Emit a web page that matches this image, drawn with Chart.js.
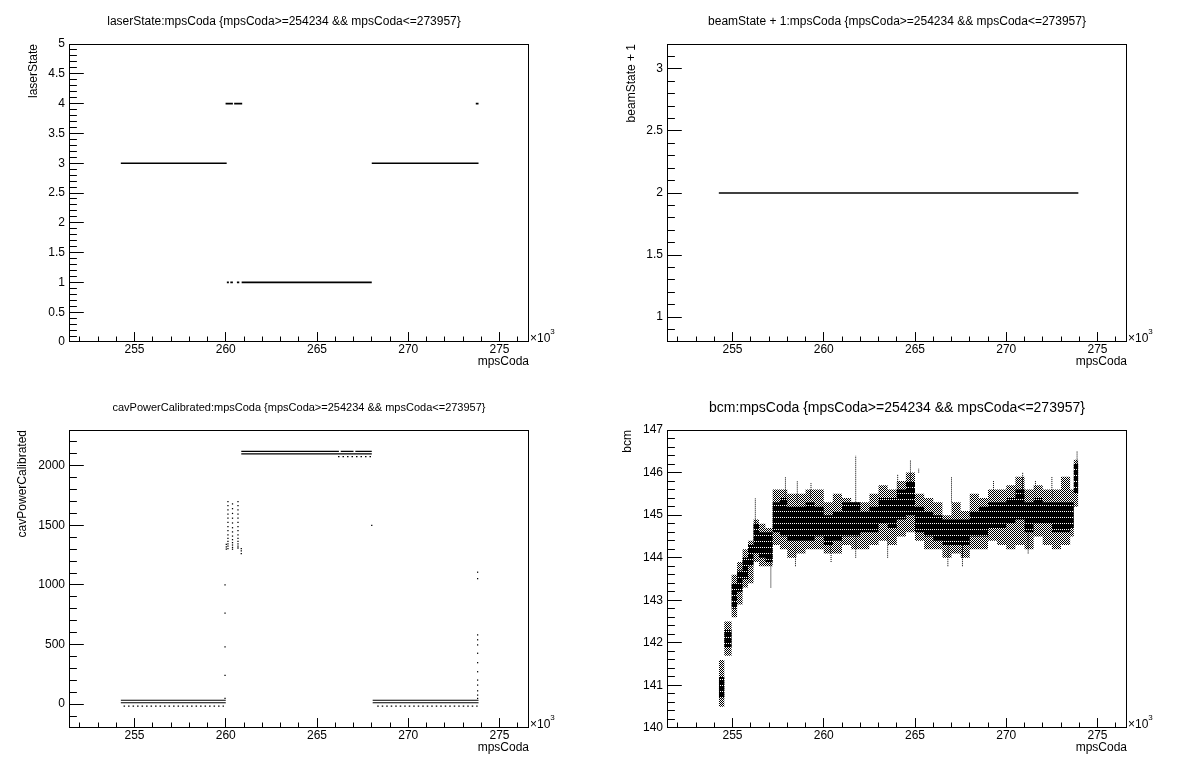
<!DOCTYPE html>
<html><head><meta charset="utf-8">
<script src="https://cdn.jsdelivr.net/npm/chart.js@4.4.0/dist/chart.umd.min.js"></script>
<style>
html,body{margin:0;padding:0;background:#fff;overflow:hidden;}
#wrap{position:relative;width:1196px;height:772px;background:#fff;}
canvas{position:absolute;}
</style></head><body>
<div id="wrap">
<canvas id="c1" width="598" height="386" style="left:0;top:0"></canvas>
<canvas id="c2" width="598" height="386" style="left:598px;top:0"></canvas>
<canvas id="c3" width="598" height="386" style="left:0;top:386px"></canvas>
<canvas id="c4" width="598" height="386" style="left:598px;top:386px"></canvas>
</div>
<script>
// ---------- data ----------
const xTickValues = [255000, 260000, 265000, 270000, 275000];
const laserTicks = [0, 0.5, 1, 1.5, 2, 2.5, 3, 3.5, 4, 4.5, 5];
const beamTicks = [1, 1.5, 2, 2.5, 3];
const cavTicks = [0, 500, 1000, 1500, 2000];
const bcmTicks = [140, 141, 142, 143, 144, 145, 146, 147];

// laserState: horizontal runs of points
const laserSegStart = [254250, 268000, 259990, 260460, 273700, 260060, 260250, 260610, 260870];
const laserSegEnd   = [260050, 273850, 260390, 260900, 273850, 260170, 260390, 260740, 268000];
const laserSegState = [3, 3, 4, 4, 4, 1, 1, 1, 1];

// beamState + 1
const beamSegStart = [254250];
const beamSegEnd   = [273950];
const beamSegValue = [2];

// cavPowerCalibrated: dense runs
const cavSegStart = [254250, 254250, 268050, 268050, 260850, 266300, 267100, 260850];
const cavSegEnd   = [260000, 260000, 273850, 273850, 266200, 267000, 268000, 268000];
const cavSegPower = [33, 12, 33, 12, 2120, 2120, 2120, 2100];
// sparse runs
const cavDotStart = [254400, 268300, 266150];
const cavDotEnd   = [259900, 273800, 268000];
const cavDotPower = [-17, -17, 2076];
// isolated points
const cavPointX = [
  259960, 259960, 259960, 259960, 259960,
  260120, 260120, 260120, 260120, 260120, 260120, 260120, 260120, 260120, 260120, 260120, 260120, 260120, 260120,
  260370, 260370, 260370, 260370, 260370, 260370, 260370, 260370, 260370, 260370, 260370, 260370, 260370,
  260670, 260670, 260670, 260670, 260670, 260670, 260670, 260670, 260670, 260670, 260670, 260670, 260670, 260670,
  260030, 260030, 260030, 260850, 260850, 260850, 268000,
  273800, 273800, 273800, 273800, 273800, 273800, 273800, 273800, 273800, 273800, 273800, 273800, 273800
];
const cavPointY = [
  1000, 764, 480, 241, 48,
  1700, 1665, 1630, 1595, 1560, 1525, 1490, 1455, 1420, 1390, 1365, 1345, 1325, 1305,
  1680, 1640, 1600, 1560, 1520, 1480, 1445, 1410, 1380, 1355, 1335, 1315, 1300,
  1700, 1665, 1630, 1595, 1560, 1525, 1490, 1455, 1420, 1390, 1365, 1345, 1325, 1310,
  1300, 1320, 1340, 1262, 1285, 1305, 1500,
  1107, 1053, 581, 540, 497, 427, 348, 272, 202, 160, 112, 76, 48
];

// bcm: envelope per mpsCoda interval
const bcmBinStart = [254250, 254550, 254950, 255250, 255550, 255850, 256150, 256450, 256800, 257200,
  257600, 258000, 258500, 259000, 259500, 260000, 260500, 261000, 261500, 262000,
  262500, 263000, 263500, 264000, 264500, 265000, 265500, 266000, 266500, 267000,
  267500, 268000, 268500, 269000, 269500, 270000, 270500, 271000, 271500, 272000,
  272500, 273000, 273500, 273700];
const bcmBinEnd = 273950;
const bcmLow = [140.5, 141.7, 142.6, 142.9, 143.3, 143.4, 143.9, 143.8, 143.8, 144.3,
  144.2, 144.0, 144.1, 144.2, 144.2, 144.1, 144.1, 144.3, 144.2, 144.2,
  144.3, 144.4, 144.3, 144.5, 144.6, 144.4, 144.2, 144.2, 144.0, 144.1,
  144.0, 144.2, 144.2, 144.4, 144.3, 144.2, 144.3, 144.2, 144.5, 144.3,
  144.2, 144.3, 144.5, 145.2];
const bcmHigh = [141.6, 142.5, 143.6, 143.9, 144.2, 144.4, 144.9, 144.8, 144.7, 145.6,
  145.6, 145.5, 145.5, 145.6, 145.6, 145.3, 145.5, 145.4, 145.3, 145.3,
  145.5, 145.7, 145.6, 145.8, 146.0, 145.5, 145.4, 145.3, 145.0, 145.3,
  145.1, 145.5, 145.4, 145.6, 145.6, 145.7, 145.9, 145.6, 145.7, 145.6,
  145.6, 145.9, 145.6, 146.3];
const bcmCoreLow = [140.7, 141.9, 142.8, 143.2, 143.5, 143.8, 144.1, 144.0, 143.9, 144.6,
  144.5, 144.4, 144.4, 144.4, 144.5, 144.3, 144.4, 144.5, 144.5, 144.6,
  144.6, 144.8, 144.7, 144.9, 145.0, 144.6, 144.5, 144.4, 144.3, 144.3,
  144.3, 144.5, 144.5, 144.7, 144.7, 144.8, 144.9, 144.6, 144.8, 144.8,
  144.6, 144.6, 144.7, 145.5];
const bcmCoreHigh = [141.2, 142.3, 143.4, 143.7, 144.0, 144.3, 144.8, 144.6, 144.6, 145.3,
  145.4, 145.2, 145.2, 145.3, 145.2, 145.0, 145.1, 145.3, 145.3, 145.1,
  145.2, 145.4, 145.4, 145.6, 145.8, 145.2, 145.1, 145.0, 144.9, 144.9,
  144.9, 145.1, 145.2, 145.3, 145.3, 145.4, 145.6, 145.3, 145.4, 145.3,
  145.3, 145.3, 145.3, 146.2];
// bcm: isolated excursions
const bcmSpikeX = [256250, 257100, 257900, 258450, 258550, 259300, 260400, 261750, 263500, 264050,
  264750, 265200, 266800, 267000, 267600, 269300, 270900, 271200, 271600, 272500, 273880];
const bcmSpikeLow = [144.4, 143.3, 145.3, 143.8, 145.3, 145.4, 143.9, 144.0, 144.0, 145.5,
  145.6, 146.0, 143.8, 145.3, 143.8, 145.4, 145.5, 144.1, 145.4, 145.4, 146.0];
const bcmSpikeHigh = [145.4, 144.2, 145.9, 144.3, 145.8, 145.75, 144.3, 146.4, 144.5, 145.95,
  146.3, 146.1, 144.3, 145.9, 144.3, 145.8, 146.0, 144.6, 145.8, 145.9, 146.5];

// ---------- helpers ----------
const FONT = "'Liberation Sans', Arial, Helvetica, sans-serif";
const X_MIN = 251410, X_MAX = 276616;
Chart.defaults.color = '#000';
Chart.defaults.font.family = FONT;

function segData(starts, ends, ys) {
  const d = [];
  starts.forEach((s, i) => { d.push({x: s, y: ys[i]}, {x: ends[i], y: ys[i]}, {x: ends[i], y: null}); });
  return d;
}
function vertData(xs, lo, hi) {
  const d = [];
  xs.forEach((x, i) => { d.push({x: x, y: lo[i]}, {x: x, y: hi[i]}, {x: x, y: null}); });
  return d;
}
function stepData(starts, end, ys) {
  const d = starts.map((s, i) => ({x: s, y: ys[i]}));
  d.push({x: end, y: ys[ys.length - 1]});
  return d;
}
function makePattern(w, h, pix) {
  const c = document.createElement('canvas'); c.width = w; c.height = h;
  const g = c.getContext('2d'); g.fillStyle = '#000';
  pix.forEach(p => g.fillRect(p[0], p[1], 1, 1));
  return g.createPattern(c, 'repeat');
}

const rootFrame = {
  id: 'rootFrame',
  afterDatasetsDraw(chart, args, o) {
    const {ctx, chartArea: a} = chart;
    const xs = chart.scales.x, ys = chart.scales.y;
    const L = a.left, R = a.right, T = a.top, B = a.bottom;
    ctx.save();
    ctx.strokeStyle = '#000'; ctx.lineWidth = 1;
    ctx.strokeRect(L + 0.5, T + 0.5, R - L - 1, B - T - 1);
    const xLen = 0.03 * (B - T), yLen = 0.03 * (R - L);
    ctx.beginPath();
    const xr = Math.round(o.xMajor / o.xMinor);
    for (let i = Math.ceil(xs.min / o.xMinor - 1e-6); i * o.xMinor <= xs.max + 1e-6; i++) {
      const p = Math.floor(xs.getPixelForValue(i * o.xMinor)) + 0.5;
      const len = (i % xr === 0) ? xLen : xLen / 2;
      ctx.moveTo(p, B - 1); ctx.lineTo(p, B - 1 - len);
    }
    const yr = Math.round(o.yMajor / o.yMinor);
    for (let i = Math.ceil(ys.min / o.yMinor - 1e-6); i * o.yMinor <= ys.max + 1e-6; i++) {
      let p = Math.floor(ys.getPixelForValue(i * o.yMinor));
      p = Math.min(Math.max(p, T), B - 1) + 0.5;
      const len = (i % yr === 0) ? yLen : yLen / 2;
      ctx.moveTo(L + 1, p); ctx.lineTo(L + 1 + len, p);
    }
    ctx.stroke();
    ctx.fillStyle = '#000';
    ctx.textBaseline = 'alphabetic'; ctx.textAlign = 'left';
    ctx.font = '12px ' + FONT;
    ctx.fillText('\u00d710', R + 1, B);
    const w = ctx.measureText('\u00d710').width;
    ctx.font = '8px ' + FONT;
    ctx.fillText('3', R + 1 + w, B - 8);
    ctx.restore();
  }
};

function makeChart(id, cfg) {
  const shift = cfg.titleShift || 0;
  return new Chart(document.getElementById(id), {
    type: 'scatter',
    data: {datasets: cfg.datasets},
    options: {
      responsive: false, animation: false, devicePixelRatio: 1, events: [],
      layout: {padding: {left: 0, top: 0, bottom: 0, right: 2 * shift}},
      plugins: {
        legend: {display: false}, tooltip: {enabled: false},
        title: {display: true, text: cfg.title, color: '#000',
          font: {family: FONT, size: cfg.titleSize, weight: 'normal'}, padding: cfg.titlePad},
        rootFrame: {xMinor: 1000, xMajor: 5000, yMinor: cfg.yMinor, yMajor: cfg.yMajor}
      },
      scales: {
        x: {
          type: 'linear', min: X_MIN, max: X_MAX,
          afterFit(s) { s.height = 44; },
          afterBuildTicks(s) { s.ticks = xTickValues.map(v => ({value: v})); },
          grid: {display: false, drawTicks: false}, border: {display: false},
          ticks: {color: '#000', font: {family: FONT, size: 12}, padding: 0, maxRotation: 0, autoSkip: false,
            callback: v => String(v / 1000)},
          title: {display: true, text: 'mpsCoda', align: 'end', color: '#000',
            font: {family: FONT, size: 12}, padding: {top: 0, bottom: 16.8}}
        },
        y: {
          type: 'linear', min: cfg.yMin, max: cfg.yMax,
          afterFit(s) { s.width = 69; },
          afterBuildTicks(s) { s.ticks = cfg.yTicks.map(v => ({value: v})); },
          grid: {display: false, drawTicks: false}, border: {display: false},
          ticks: {color: '#000', font: {family: FONT, size: 12}, padding: 4, autoSkip: false,
            callback: v => String(v)},
          title: {display: true, text: cfg.yTitle, align: 'end', color: '#000',
            font: {family: FONT, size: 12}, padding: {top: cfg.yTitlePad, bottom: 0}}
        },
        yRight: {
          type: 'linear', position: 'right', display: true,
          afterFit(s) { s.width = 69 - 2 * shift; },
          grid: {display: false, drawTicks: false}, border: {display: false},
          ticks: {display: false}
        }
      }
    },
    plugins: [rootFrame]
  });
}

const COND = ' {mpsCoda>=254234 && mpsCoda<=273957}';
const lineDs = (data, w, dash) => ({data, showLine: true, borderColor: '#000', borderWidth: w,
  borderDash: dash || [], pointRadius: 0, fill: false, spanGaps: false});

makeChart('c1', {
  title: 'laserState:mpsCoda' + COND, titleSize: 12, titlePad: {top: 14.5, bottom: 15.1}, titleShift: 15,
  yMin: 0, yMax: 5, yTicks: laserTicks, yMinor: 0.1, yMajor: 0.5, yTitle: 'laserState', yTitlePad: 26.5,
  datasets: [lineDs(segData(laserSegStart, laserSegEnd, laserSegState), 1.6)]
});

makeChart('c2', {
  title: 'beamState + 1:mpsCoda' + COND, titleSize: 12, titlePad: {top: 14.5, bottom: 15.1},
  yMin: 0.8, yMax: 3.2, yTicks: beamTicks, yMinor: 0.1, yMajor: 0.5, yTitle: 'beamState + 1', yTitlePad: 26.8,
  datasets: [lineDs(segData(beamSegStart, beamSegEnd, beamSegValue), 1.6)]
});

makeChart('c3', {
  title: 'cavPowerCalibrated:mpsCoda' + COND, titleSize: 11, titlePad: {top: 15.1, bottom: 15.7},
  yMin: -200, yMax: 2300, yTicks: cavTicks, yMinor: 100, yMajor: 500, yTitle: 'cavPowerCalibrated', yTitlePad: 15.5,
  datasets: [
    lineDs(segData(cavSegStart, cavSegEnd, cavSegPower), 1.2),
    lineDs(segData(cavDotStart, cavDotEnd, cavDotPower), 1.2, [1.5, 3]),
    {data: cavPointX.map((x, i) => ({x, y: cavPointY[i]})), showLine: false, pointStyle: 'rect',
      pointRadius: 0.9, backgroundColor: '#000', borderWidth: 0}
  ]
});

const outerPattern = makePattern(2, 2, [[0, 0], [1, 1]]);
const corePattern = makePattern(1, 6, [[0, 0], [0, 1], [0, 2], [0, 3], [0, 4]]);
const stepDs = (data, fill, bg) => ({data, showLine: true, stepped: true, borderWidth: 0,
  borderColor: 'rgba(0,0,0,0)', pointRadius: 0, fill, backgroundColor: bg});

makeChart('c4', {
  title: 'bcm:mpsCoda' + COND, titleSize: 14, titlePad: {top: 13.6, bottom: 13.6},
  yMin: 140, yMax: 147, yTicks: bcmTicks, yMinor: 0.2, yMajor: 1, yTitle: 'bcm', yTitlePad: 22.8,
  datasets: [
    lineDs(vertData(bcmSpikeX, bcmSpikeLow, bcmSpikeHigh), 1, [1, 1]),
    stepDs(stepData(bcmBinStart, bcmBinEnd, bcmCoreHigh), false, 'rgba(0,0,0,0)'),
    stepDs(stepData(bcmBinStart, bcmBinEnd, bcmCoreLow), '-1', corePattern),
    stepDs(stepData(bcmBinStart, bcmBinEnd, bcmHigh), false, 'rgba(0,0,0,0)'),
    stepDs(stepData(bcmBinStart, bcmBinEnd, bcmLow), '-1', outerPattern)
  ]
});
</script>
</body></html>
